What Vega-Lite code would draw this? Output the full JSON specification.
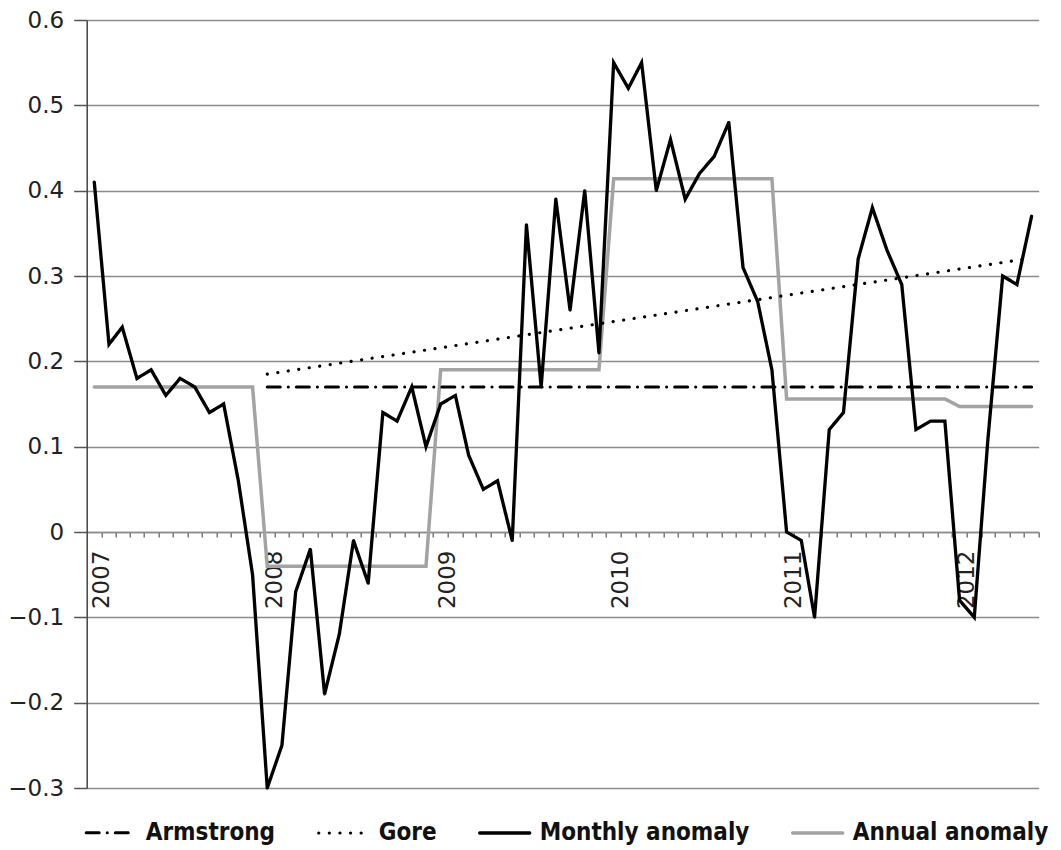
{
  "$schema": "https://vega.github.io/schema/vega-lite/v6.json",
  "width": 952,
  "height": 768,
  "autosize": {"type": "none"},
  "padding": {"left": 86.7, "top": 20, "right": 22.3, "bottom": 62},
  "background": "white",
  "config": {"view": {"stroke": null}, "font": "DejaVu Sans"},
  "data": {
    "values": [
      {"month": "2007-01", "series": "Annual anomaly", "value": 0.17},
      {"month": "2007-12", "series": "Annual anomaly", "value": 0.17},
      {"month": "2008-01", "series": "Annual anomaly", "value": -0.04},
      {"month": "2008-12", "series": "Annual anomaly", "value": -0.04},
      {"month": "2009-01", "series": "Annual anomaly", "value": 0.19},
      {"month": "2009-12", "series": "Annual anomaly", "value": 0.19},
      {"month": "2010-01", "series": "Annual anomaly", "value": 0.414},
      {"month": "2010-12", "series": "Annual anomaly", "value": 0.414},
      {"month": "2011-01", "series": "Annual anomaly", "value": 0.156},
      {"month": "2011-12", "series": "Annual anomaly", "value": 0.156},
      {"month": "2012-01", "series": "Annual anomaly", "value": 0.147},
      {"month": "2012-06", "series": "Annual anomaly", "value": 0.147},
      {"month": "2008-01", "series": "Armstrong", "value": 0.17},
      {"month": "2012-06", "series": "Armstrong", "value": 0.17},
      {"month": "2008-01", "series": "Gore", "value": 0.185},
      {"month": "2012-06", "series": "Gore", "value": 0.321},
      {"month": "2007-01", "series": "Monthly anomaly", "value": 0.41},
      {"month": "2007-02", "series": "Monthly anomaly", "value": 0.22},
      {"month": "2007-03", "series": "Monthly anomaly", "value": 0.24},
      {"month": "2007-04", "series": "Monthly anomaly", "value": 0.18},
      {"month": "2007-05", "series": "Monthly anomaly", "value": 0.19},
      {"month": "2007-06", "series": "Monthly anomaly", "value": 0.16},
      {"month": "2007-07", "series": "Monthly anomaly", "value": 0.18},
      {"month": "2007-08", "series": "Monthly anomaly", "value": 0.17},
      {"month": "2007-09", "series": "Monthly anomaly", "value": 0.14},
      {"month": "2007-10", "series": "Monthly anomaly", "value": 0.15},
      {"month": "2007-11", "series": "Monthly anomaly", "value": 0.06},
      {"month": "2007-12", "series": "Monthly anomaly", "value": -0.05},
      {"month": "2008-01", "series": "Monthly anomaly", "value": -0.30},
      {"month": "2008-02", "series": "Monthly anomaly", "value": -0.25},
      {"month": "2008-03", "series": "Monthly anomaly", "value": -0.07},
      {"month": "2008-04", "series": "Monthly anomaly", "value": -0.02},
      {"month": "2008-05", "series": "Monthly anomaly", "value": -0.19},
      {"month": "2008-06", "series": "Monthly anomaly", "value": -0.12},
      {"month": "2008-07", "series": "Monthly anomaly", "value": -0.01},
      {"month": "2008-08", "series": "Monthly anomaly", "value": -0.06},
      {"month": "2008-09", "series": "Monthly anomaly", "value": 0.14},
      {"month": "2008-10", "series": "Monthly anomaly", "value": 0.13},
      {"month": "2008-11", "series": "Monthly anomaly", "value": 0.17},
      {"month": "2008-12", "series": "Monthly anomaly", "value": 0.10},
      {"month": "2009-01", "series": "Monthly anomaly", "value": 0.15},
      {"month": "2009-02", "series": "Monthly anomaly", "value": 0.16},
      {"month": "2009-03", "series": "Monthly anomaly", "value": 0.09},
      {"month": "2009-04", "series": "Monthly anomaly", "value": 0.05},
      {"month": "2009-05", "series": "Monthly anomaly", "value": 0.06},
      {"month": "2009-06", "series": "Monthly anomaly", "value": -0.01},
      {"month": "2009-07", "series": "Monthly anomaly", "value": 0.36},
      {"month": "2009-08", "series": "Monthly anomaly", "value": 0.17},
      {"month": "2009-09", "series": "Monthly anomaly", "value": 0.39},
      {"month": "2009-10", "series": "Monthly anomaly", "value": 0.26},
      {"month": "2009-11", "series": "Monthly anomaly", "value": 0.40},
      {"month": "2009-12", "series": "Monthly anomaly", "value": 0.21},
      {"month": "2010-01", "series": "Monthly anomaly", "value": 0.55},
      {"month": "2010-02", "series": "Monthly anomaly", "value": 0.52},
      {"month": "2010-03", "series": "Monthly anomaly", "value": 0.55},
      {"month": "2010-04", "series": "Monthly anomaly", "value": 0.40},
      {"month": "2010-05", "series": "Monthly anomaly", "value": 0.46},
      {"month": "2010-06", "series": "Monthly anomaly", "value": 0.39},
      {"month": "2010-07", "series": "Monthly anomaly", "value": 0.42},
      {"month": "2010-08", "series": "Monthly anomaly", "value": 0.44},
      {"month": "2010-09", "series": "Monthly anomaly", "value": 0.48},
      {"month": "2010-10", "series": "Monthly anomaly", "value": 0.31},
      {"month": "2010-11", "series": "Monthly anomaly", "value": 0.27},
      {"month": "2010-12", "series": "Monthly anomaly", "value": 0.19},
      {"month": "2011-01", "series": "Monthly anomaly", "value": 0.00},
      {"month": "2011-02", "series": "Monthly anomaly", "value": -0.01},
      {"month": "2011-03", "series": "Monthly anomaly", "value": -0.10},
      {"month": "2011-04", "series": "Monthly anomaly", "value": 0.12},
      {"month": "2011-05", "series": "Monthly anomaly", "value": 0.14},
      {"month": "2011-06", "series": "Monthly anomaly", "value": 0.32},
      {"month": "2011-07", "series": "Monthly anomaly", "value": 0.38},
      {"month": "2011-08", "series": "Monthly anomaly", "value": 0.33},
      {"month": "2011-09", "series": "Monthly anomaly", "value": 0.29},
      {"month": "2011-10", "series": "Monthly anomaly", "value": 0.12},
      {"month": "2011-11", "series": "Monthly anomaly", "value": 0.13},
      {"month": "2011-12", "series": "Monthly anomaly", "value": 0.13},
      {"month": "2012-01", "series": "Monthly anomaly", "value": -0.08},
      {"month": "2012-02", "series": "Monthly anomaly", "value": -0.10},
      {"month": "2012-03", "series": "Monthly anomaly", "value": 0.11},
      {"month": "2012-04", "series": "Monthly anomaly", "value": 0.30},
      {"month": "2012-05", "series": "Monthly anomaly", "value": 0.29},
      {"month": "2012-06", "series": "Monthly anomaly", "value": 0.37}
    ]
  },
  "mark": {"type": "line", "strokeCap": "round", "strokeJoin": "miter"},
  "encoding": {
    "x": {
      "field": "month",
      "type": "temporal",
      "scale": {
        "type": "utc",
        "domain": [
          {"year": 2006, "month": 12, "date": 16, "utc": true},
          {"year": 2012, "month": 6, "date": 16, "utc": true}
        ]
      },
      "axis": {
        "orient": "bottom",
        "offset": -256,
        "title": null,
        "grid": false,
        "tickCount": {"interval": "month", "step": 1},
        "labelExpr": "utcmonth(datum.value) === 0 ? utcFormat(datum.value, '%Y') : ''",
        "labelAngle": 270,
        "labelAlign": "right",
        "labelBaseline": "middle",
        "labelFont": "DejaVu Sans",
        "labelFontSize": 23,
        "labelColor": "#222222",
        "labelOverlap": false,
        "labelFlush": false,
        "labelBound": false,
        "labelPadding": 13,
        "tickSize": 5,
        "tickOffset": 7.2,
        "labelOffset": 0,
        "tickColor": "#666666",
        "tickWidth": 1.3,
        "domainColor": "#8c8c8c",
        "domainWidth": 1.5
      }
    },
    "y": {
      "field": "value",
      "type": "quantitative",
      "scale": {"domain": [-0.3, 0.6], "nice": false, "zero": false},
      "axis": {
        "title": null,
        "values": [-0.3, -0.2, -0.1, 0, 0.1, 0.2, 0.3, 0.4, 0.5, 0.6],
        "labelExpr": "datum.value == 0 ? '0' : format(datum.value, '.1f')",
        "labelFont": "DejaVu Sans",
        "labelFontSize": 23,
        "labelColor": "#222222",
        "labelPadding": 10,
        "tickSize": 13,
        "tickColor": "#555555",
        "tickWidth": 1.5,
        "domainColor": "#444444",
        "domainWidth": 1.5,
        "grid": true,
        "gridColor": "#8c8c8c",
        "gridWidth": 1.5
      }
    },
    "color": {
      "field": "series",
      "type": "nominal",
      "scale": {
        "domain": ["Armstrong", "Gore", "Monthly anomaly", "Annual anomaly"],
        "range": ["#000000", "#000000", "#000000", "#a3a3a3"]
      },
      "legend": {
        "orient": "none",
        "legendX": -2,
        "legendY": 786,
        "direction": "horizontal",
        "title": null,
        "symbolType": "stroke",
        "symbolSize": 2500,
        "labelFont": "DejaVu Sans Condensed, Liberation Sans Narrow, DejaVu Sans",
        "labelFontWeight": "bold",
        "labelFontSize": 24,
        "labelColor": "#111111",
        "labelOffset": 8,
        "columnPadding": 36,
        "labelLimit": 400,
        "encode": {"symbols": {"update": {"strokeCap": {"value": "round"}}}}
      }
    },
    "strokeDash": {
      "field": "series",
      "type": "nominal",
      "scale": {
        "domain": ["Armstrong", "Gore", "Monthly anomaly", "Annual anomaly"],
        "range": [[13, 8, 0.1, 8], [0.1, 10.5], [1, 0], [1, 0]]
      }
    },
    "strokeWidth": {
      "field": "series",
      "type": "nominal",
      "scale": {
        "domain": ["Armstrong", "Gore", "Monthly anomaly", "Annual anomaly"],
        "range": [3, 3.5, 3, 3.5]
      }
    }
  }
}
